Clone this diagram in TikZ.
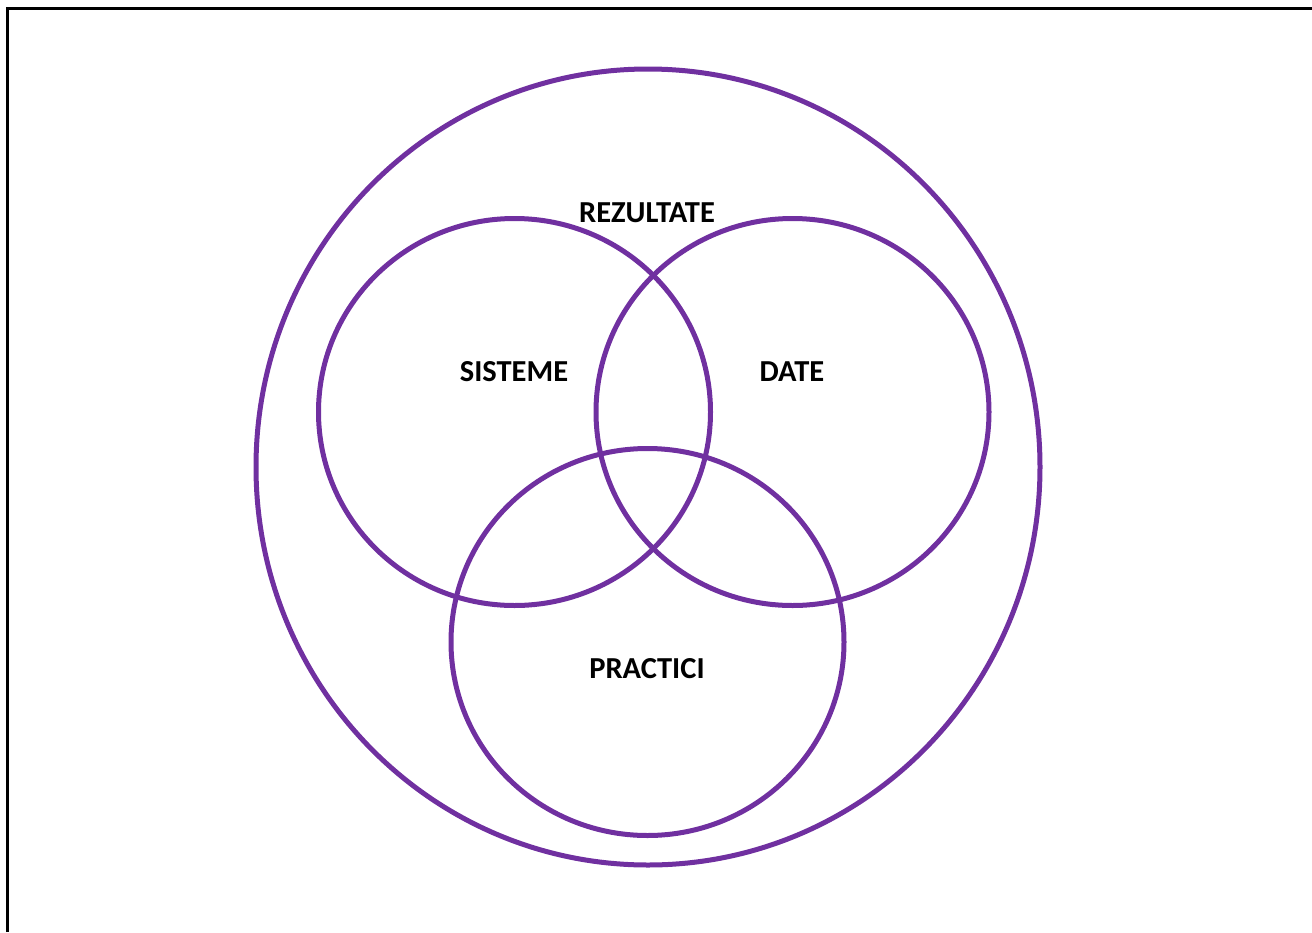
\documentclass[tikz,border=0pt]{standalone}
\usepackage{fontspec}
\setmainfont{Carlito}
\usepackage{tikz}
\usetikzlibrary{calc}
\definecolor{venn}{HTML}{7030A0}
\tikzset{ring/.style={venn,line width=5pt},
  lbl/.style={font=\fontsize{30.5}{36}\selectfont\bfseries}}

\begin{document}
\begin{tikzpicture}[x=1pt,y=-1pt]
\useasboundingbox (0,0) rectangle (1312,932);
\draw[line width=3pt] (7,932) -- (7,8) -- (1312,8);
\draw[ring] (648,467) ellipse (392 and 398);
\draw[ring] (514.5,412) ellipse (196 and 193.5);
\draw[ring] (792.5,412) ellipse (196.5 and 193.5);
\draw[ring] (647.5,642) ellipse (196.5 and 193.5);
\node[lbl] (rez) at (647,213) {REZULTATE};
\node[lbl] (sis) at (514,372) {SISTEME};
\node[lbl] (dat) at (792,372) {DATE};
\node[lbl] (pra) at (647,669) {PRACTICI};
\end{tikzpicture}
\end{document}
